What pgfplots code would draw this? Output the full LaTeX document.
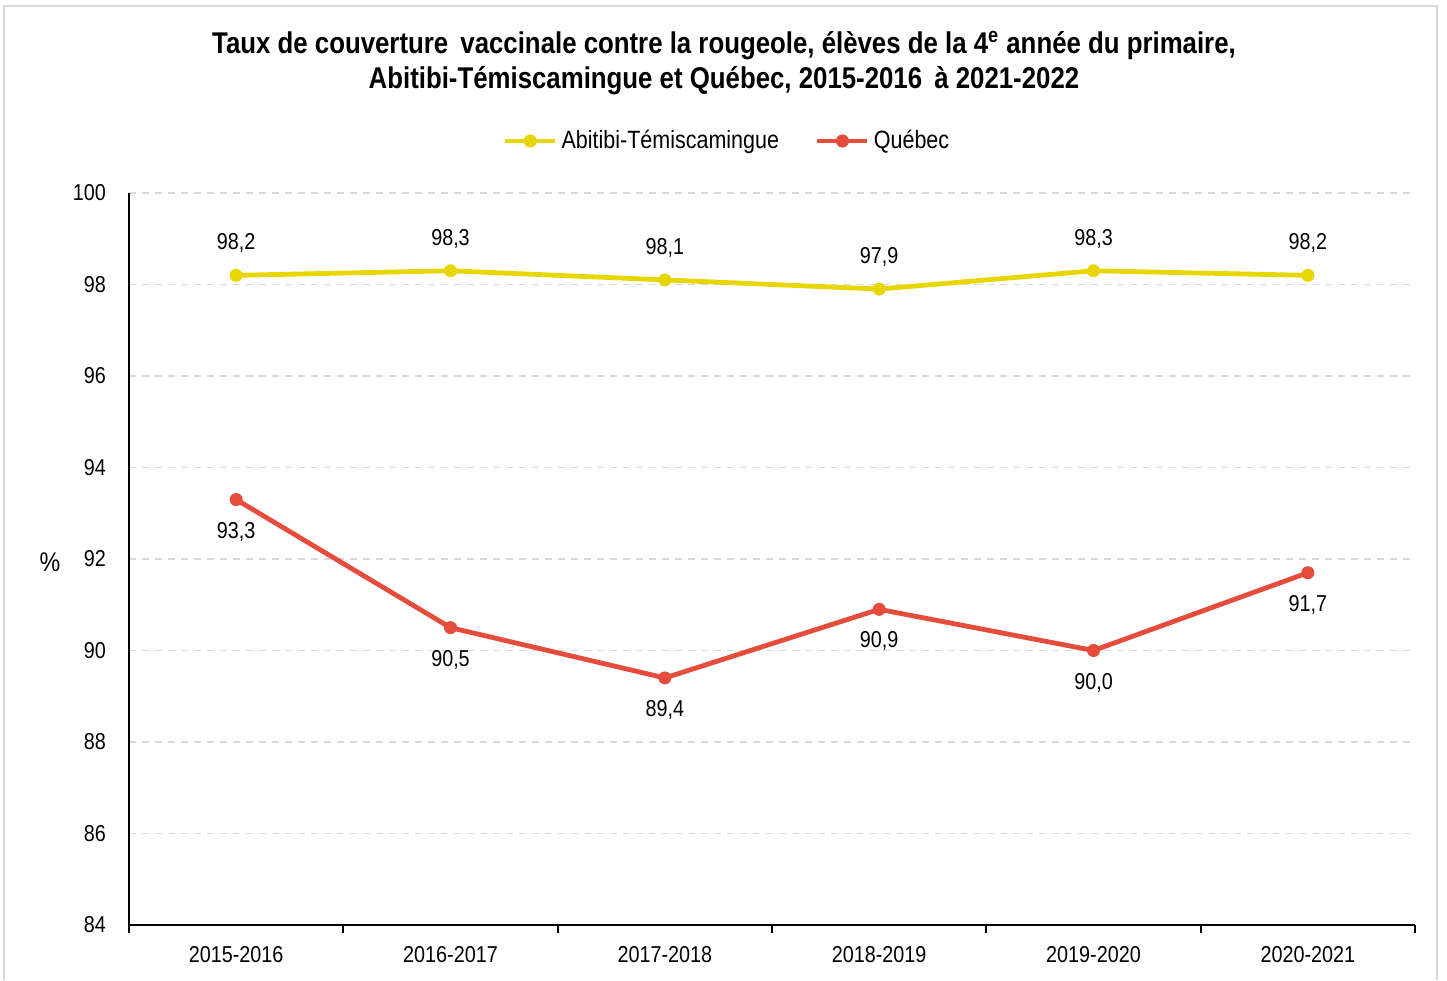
\documentclass[border=0pt]{standalone}
\usepackage{fontspec}
\setmainfont[FakeStretch=0.86]{Liberation Sans}
\usepackage{pgfplots}
\pgfplotsset{compat=1.18}
\usetikzlibrary{calc}
\definecolor{yel}{RGB}{232,214,0}
\definecolor{qred}{RGB}{229,76,59}
\definecolor{gridc}{RGB}{217,217,217}
\begin{document}
\begin{tikzpicture}
\begin{axis}[
  name=ax,
  scale only axis,
  width=643pt, height=366pt,
  xmin=-0.5, xmax=5.5,
  ymin=84, ymax=100,
  ytick={84,86,...,100},
  xtick={0,1,2,3,4,5},
  xticklabels={2015-2016,2016-2017,2017-2018,2018-2019,2019-2020,2020-2021},
  minor xtick={-0.5,0.5,1.5,2.5,3.5,4.5,5.5},
  major tick length=0pt,
  minor tick length=4pt,
  tick align=outside,
  tick pos=left,
  axis x line*=bottom,
  axis y line*=left,
  axis line style={black, line width=1pt},
  minor tick style={black, line width=1pt},
  ymajorgrids,
  major grid style={gridc, line width=0.8pt, dash pattern=on 3.5pt off 3pt},
  ticklabel style={font=\fontsize{11.5}{13}\selectfont},
  /pgf/number format/assume math mode=true,
  yticklabel style={xshift=-8pt},
  xticklabel style={yshift=-7pt},
  clip=false,
  legend style={at={(0.5,1)}, anchor=center, xshift=-22pt, yshift=26pt,
    draw=none, fill=none, legend columns=2, font=\fontsize{12.5}{14}\selectfont,
    /tikz/every even column/.append style={column sep=16pt}},
  legend image code/.code={\draw[mark repeat=2,mark phase=2] plot coordinates {(0pt,0pt) (12.5pt,0pt) (25pt,0pt)};},
  nodes near coords={\pgfmathprintnumber[use comma,fixed,fixed zerofill,precision=1,assume math mode=true]{\pgfplotspointmeta}},
  every node near coord/.append style={font=\fontsize{11.5}{13}\selectfont, black, anchor=center},
]
\addplot[yel, line width=2.4pt, mark=*, mark size=3pt, mark options={fill=yel, draw=yel, line width=0.5pt},
  every node near coord/.append style={yshift=16pt}]
  coordinates {(0,98.2) (1,98.3) (2,98.1) (3,97.9) (4,98.3) (5,98.2)};
\addlegendentry{Abitibi-Témiscamingue}
\addplot[qred, line width=2.4pt, mark=*, mark size=3pt, mark options={fill=qred, draw=qred, line width=0.5pt},
  every node near coord/.append style={yshift=-16pt}]
  coordinates {(0,93.3) (1,90.5) (2,89.4) (3,90.9) (4,90.0) (5,91.7)};
\addlegendentry{Québec}
\end{axis}
\node[font=\fontsize{13.5}{15}\selectfont] at ($(ax.west)+(-39.5pt,-1.5pt)$) {\%};
\node[align=center, font=\fontsize{15}{17.5}\selectfont\bfseries] at ($(ax.north)+(-24pt,65pt)$)
  {Taux de couverture\ \,vaccinale contre la rougeole, élèves de la 4\textsuperscript{e} année du primaire,\\
   Abitibi-Témiscamingue et Québec, 2015-2016\ \,à 2021-2022};
\draw[gridc, line width=0.6pt] ($(ax.south west)+(-62.5pt,-27.5pt)$) -- ($(ax.north west)+(-62.5pt,93.5pt)$) -- ($(ax.north east)+(11pt,93.5pt)$) -- ($(ax.south east)+(11pt,-27.5pt)$);
\path[use as bounding box] ($(ax.south west)+(-64.5pt,-27.5pt)$) rectangle ($(ax.north east)+(16pt,96.5pt)$);
\end{tikzpicture}
\end{document}
